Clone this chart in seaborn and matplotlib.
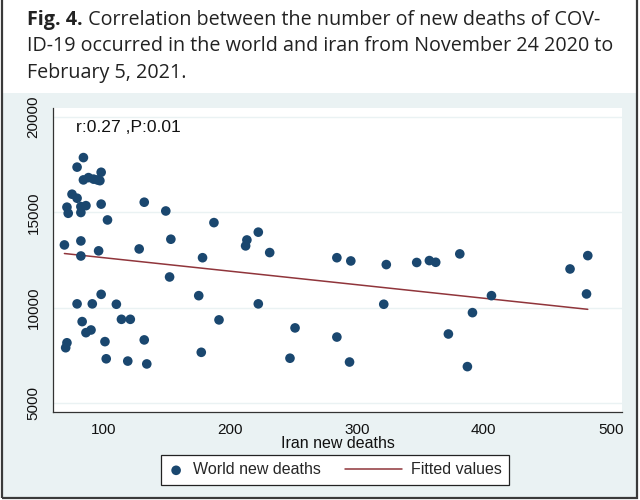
import numpy as np
import pandas as pd
import seaborn as sns
import matplotlib.pyplot as plt
from matplotlib.patches import Rectangle
from matplotlib.legend_handler import HandlerPathCollection, HandlerLine2D

# Iran new deaths (x) vs world new deaths (y)
iran_deaths = [84, 79, 98, 84, 88, 92, 95, 97, 75, 79, 71, 72, 82, 86, 82, 98,
               103, 132, 149, 69, 82, 82, 96, 128, 71, 70, 79, 91, 98, 110,
               83, 86, 90, 101, 114, 121, 102, 119, 134, 132, 152, 187, 153,
               178, 222, 213, 212, 231, 175, 222, 191, 177, 284, 295, 323,
               347, 357, 362, 381, 321, 251, 284, 247, 294, 482, 468, 481,
               406, 391, 372, 387]
world_deaths = [17870, 17370, 17100, 16700, 16820, 16740, 16700, 16660, 15950,
                15740, 15270, 14950, 15300, 15350, 14990, 15430, 14600, 15530,
                15070, 13290, 13500, 12710, 12980, 13080, 8160, 7900, 10200,
                10200, 10700, 10180, 9270, 8690, 8830, 8220, 9390, 9390, 7320,
                7200, 7050, 8310, 11610, 14460, 13590, 12620, 13960, 13550,
                13240, 12890, 10630, 10200, 9360, 7660, 12620, 12450, 12260,
                12370, 12470, 12380, 12820, 10180, 8940, 8460, 7350, 7150,
                12730, 12030, 10720, 10630, 9740, 8620, 6910]

caption_lines = ["Correlation between the number of new deaths of COV-",
                 "ID-19 occurred in the world and iran from November 24 2020 to",
                 "February 5, 2021."]
stat_text = "r:0.27 ,P:0.01"

df = pd.DataFrame({"iran": iran_deaths, "world": world_deaths})

navy = "#1A476F"
maroon = "#90353B"
bg = "#EAF2F3"

sns.set_style("white")
plt.rcParams["font.family"] = ["Liberation Sans", "DejaVu Sans"]

fig = plt.figure(figsize=(6.4, 5.0), dpi=100)
fig.patch.set_facecolor("white")

# light graph region + outer frame
fig.add_artist(Rectangle((3 / 640, 3 / 500), 633 / 640, 404 / 500,
                         transform=fig.transFigure, facecolor=bg,
                         edgecolor="none", zorder=0))
fig.add_artist(Rectangle((2 / 640, 2 / 500), 635 / 640, 510 / 500,
                         transform=fig.transFigure, facecolor="none",
                         edgecolor="#3a3a3a", linewidth=1.6, zorder=5,
                         clip_on=False))

ax = fig.add_axes([53 / 640, 88 / 500, 569 / 640, 304 / 500])
ax.set_facecolor("white")

# caption
cap_font = ["Open Sans", "DejaVu Sans"]
cap_size = 14.25
t1 = fig.text(27 / 640, 1 - 20 / 500, "Fig. 4.", fontsize=cap_size,
              fontweight="bold", va="center", ha="left", family=cap_font,
              color="#222222")
ax.annotate(" " + caption_lines[0], xy=(1, 0.5), xycoords=t1, va="center",
            ha="left", fontsize=cap_size, family=cap_font, color="#222222",
            annotation_clip=False)
fig.text(27 / 640, 1 - 46 / 500, caption_lines[1], fontsize=cap_size,
         va="center", ha="left", family=cap_font, color="#222222")
fig.text(27 / 640, 1 - 73 / 500, caption_lines[2], fontsize=cap_size,
         va="center", ha="left", family=cap_font, color="#222222")

sns.regplot(data=df, x="iran", y="world", scatter=False, ci=None, ax=ax,
            color=maroon, line_kws={"linewidth": 1.1, "zorder": 2},
            label="Fitted values")
sns.scatterplot(data=df, x="iran", y="world", ax=ax, color=navy, s=48,
                edgecolor="none", zorder=3, label="World new deaths")

ax.set_xlim(60, 509)
ax.set_ylim(4530, 20470)
ax.set_xticks([100, 200, 300, 400, 500])
ax.set_yticks([5000, 10000, 15000, 20000])
ax.set_yticklabels(["5000", "10000", "15000", "20000"], rotation=90,
                   va="center")
ax.yaxis.grid(True, color=bg, linewidth=1.0)
ax.set_axisbelow(True)
ax.tick_params(axis="both", direction="out", length=5, width=0.8,
               color="#333333", labelsize=11, labelcolor="#111111")
ax.tick_params(axis="x", pad=3)
ax.tick_params(axis="y", pad=4)
for side in ["top", "right"]:
    ax.spines[side].set_visible(False)
for side in ["left", "bottom"]:
    ax.spines[side].set_color("#333333")
    ax.spines[side].set_linewidth(0.9)

ax.set_xlabel("Iran new deaths", fontsize=11.5, labelpad=-1, color="#111111")
ax.set_ylabel("")
ax.text(0.04, 0.9375, stat_text, transform=ax.transAxes, fontsize=12.6,
        va="center", ha="left", color="#111111")

handles, labels = ax.get_legend_handles_labels()
h_pts = handles[labels.index("World new deaths")]
h_fit = handles[labels.index("Fitted values")]
leg = ax.legend([h_pts, h_fit], ["World new deaths", "Fitted values"],
                loc="center", bbox_to_anchor=(335 / 640, 30 / 500),
                bbox_transform=fig.transFigure, ncol=2, frameon=True,
                fancybox=False, edgecolor="#222222", framealpha=1,
                fontsize=11.5, handlelength=1.0, columnspacing=4.1,
                borderpad=0.45, handletextpad=0.55,
                handler_map={h_pts: HandlerPathCollection(),
                             h_fit: HandlerLine2D(xpad=-2.6)})
leg.get_frame().set_linewidth(0.9)

fig.savefig("out.png", dpi=100, facecolor=fig.get_facecolor())
